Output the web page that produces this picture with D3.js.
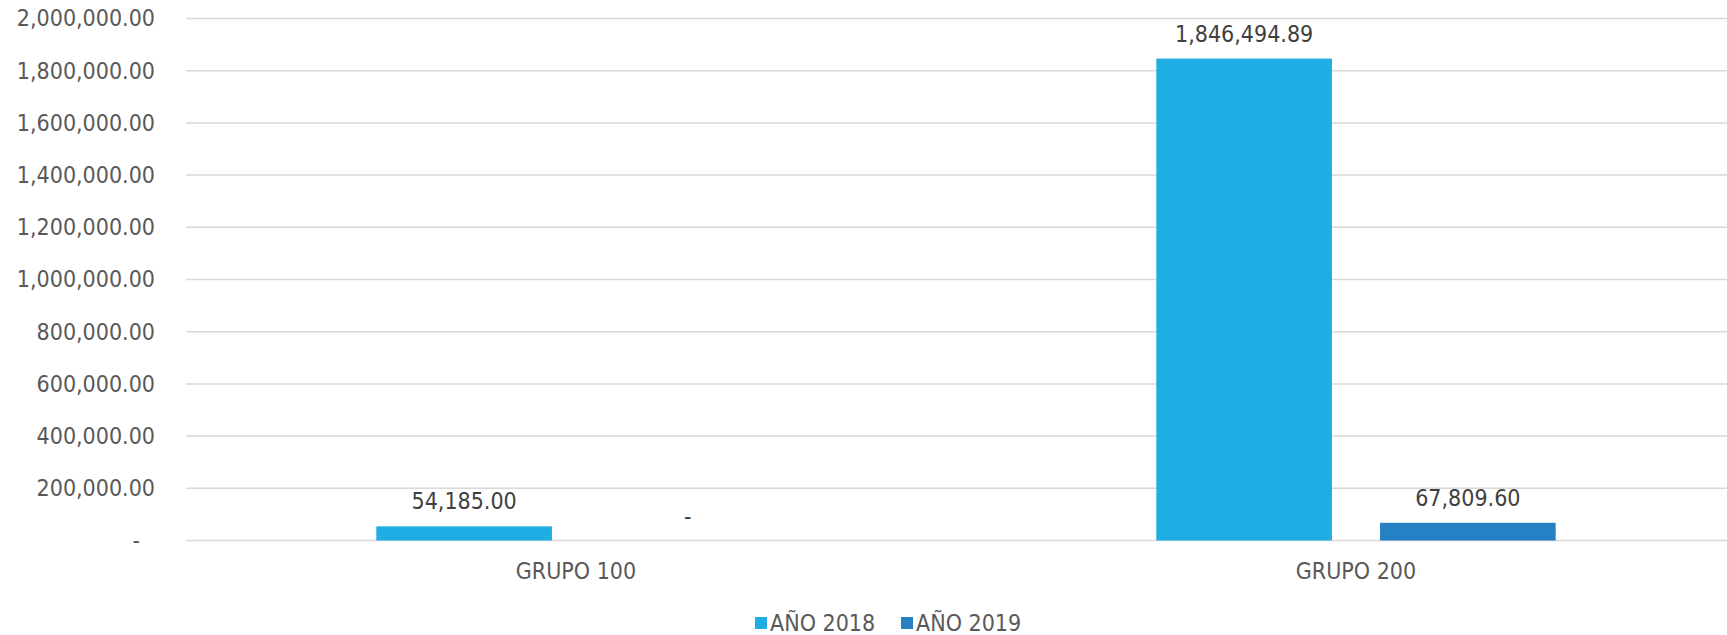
<!DOCTYPE html>
<html>
<head>
<meta charset="utf-8">
<script src="https://cdn.jsdelivr.net/npm/d3@7"></script>
<style>
  body { margin: 0; background: #fff; }
  svg text { font-family: "DejaVu Sans Condensed", "DejaVu Sans", sans-serif; }
</style>
</head>
<body>
<script>
var categories = ["GRUPO 100", "GRUPO 200"];
var series = ["AÑO 2018", "AÑO 2019"];
var values2018 = [54185.00, 1846494.89];
var values2019 = [0, 67809.60];
var yTicks = [0, 200000, 400000, 600000, 800000, 1000000, 1200000, 1400000, 1600000, 1800000, 2000000];
var colors = ["#1FADE4", "#2581C4"];

var width = 1727, height = 635;
var margin = {top: 18.5, left: 186, bottom: 540.5};

var fmt = function(v) {
  if (v === 0) return "-";
  return d3.format(",.2f")(v);
};

var rows = categories.map(function(c, i) {
  return {cat: c, vals: [values2018[i], values2019[i]]};
});

var svg = d3.select("body").append("svg")
  .attr("width", width)
  .attr("height", height);

// category band runs past the right edge (the reference is cut there)
var x0 = d3.scaleBand().domain(categories).range([margin.left, margin.left + 1560])
  .paddingInner(0.488).paddingOuter(0.244);
var x1 = d3.scaleBand().domain(series).range([0, x0.bandwidth()])
  .paddingInner(0.215).paddingOuter(0);
var y = d3.scaleLinear().domain([0, 2000000]).range([margin.bottom, margin.top]);

// gridlines
svg.append("g").selectAll("line").data(yTicks).enter().append("line")
  .attr("x1", margin.left)
  .attr("x2", width)
  .attr("y1", function(d) { return y(d); })
  .attr("y2", function(d) { return y(d); })
  .attr("stroke", "#D9D9D9")
  .attr("stroke-width", 1.5);

// y axis labels
var yAxis = d3.axisLeft(y).tickValues(yTicks).tickFormat(fmt).tickSize(0).tickPadding(31);
var yg = svg.append("g")
  .attr("transform", "translate(" + margin.left + ",0)")
  .call(yAxis);
yg.select(".domain").remove();
yg.selectAll("text")
  .attr("fill", "#595959")
  .style("font-size", "23px");
// accounting style: the zero dash sits further left
yg.selectAll(".tick").filter(function(d) { return d === 0; }).select("text")
  .attr("dx", -15);

// bars
var groups = svg.append("g").selectAll("g").data(rows).enter().append("g")
  .attr("transform", function(d) { return "translate(" + x0(d.cat) + ",0)"; });

groups.selectAll("rect").data(function(d) { return d.vals; }).enter().append("rect")
  .attr("x", function(d, i) { return x1(series[i]); })
  .attr("y", function(d) { return y(d); })
  .attr("width", x1.bandwidth())
  .attr("height", function(d) { return y(0) - y(d); })
  .attr("fill", function(d, i) { return colors[i]; });

groups.selectAll("text").data(function(d) { return d.vals; }).enter().append("text")
  .attr("x", function(d, i) { return x1(series[i]) + x1.bandwidth() / 2; })
  .attr("y", function(d) { return y(d) - 17; })
  .attr("text-anchor", "middle")
  .attr("fill", "#404040")
  .style("font-size", "23px")
  .text(fmt);

// x axis labels
var xAxis = d3.axisBottom(x0).tickSize(0).tickPadding(22);
var xg = svg.append("g")
  .attr("transform", "translate(0," + margin.bottom + ")")
  .call(xAxis);
xg.select(".domain").remove();
xg.selectAll("text")
  .attr("fill", "#595959")
  .style("font-size", "23px");

// legend
var legendX = [755, 901];
var legend = svg.append("g").selectAll("g").data(series).enter().append("g")
  .attr("transform", function(d, i) { return "translate(" + legendX[i] + ",617)"; });
legend.append("rect")
  .attr("width", 12).attr("height", 12)
  .attr("fill", function(d, i) { return colors[i]; });
legend.append("text")
  .attr("x", 15).attr("y", 6)
  .attr("dy", "0.35em")
  .attr("fill", "#595959")
  .style("font-size", "23px")
  .text(function(d) { return d; });
</script>
</body>
</html>
